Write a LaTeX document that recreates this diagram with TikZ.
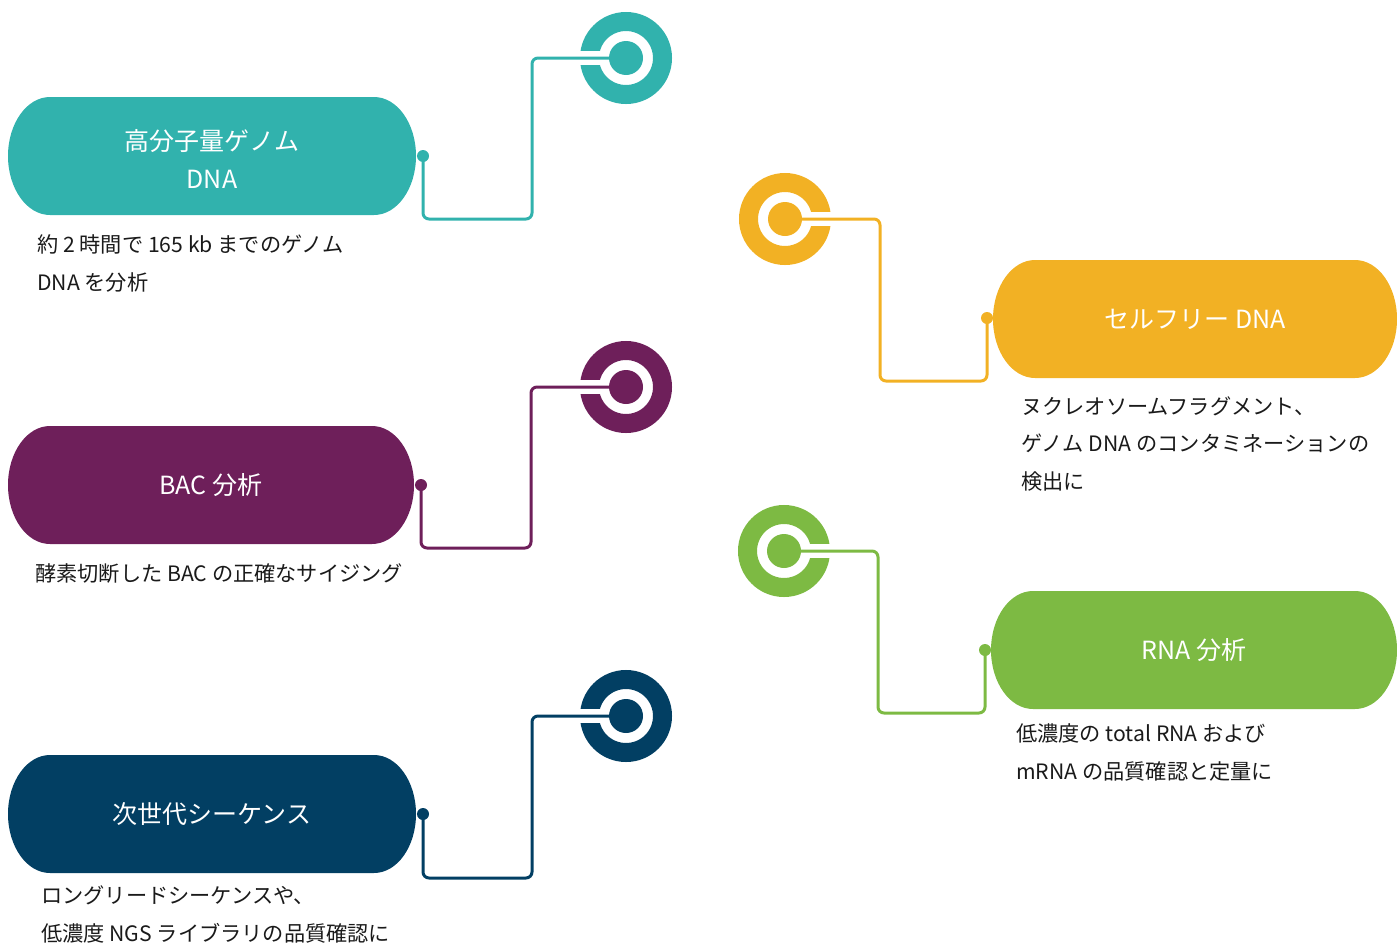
\documentclass[tikz,border=0pt]{standalone}
\usepackage{fontspec}
\setmainfont{Noto Sans CJK JP}
\usetikzlibrary{calc}
\definecolor{cteal}{HTML}{31B2AD}
\definecolor{cpurple}{HTML}{6E1F5A}
\definecolor{cnavy}{HTML}{023F63}
\definecolor{cyellow}{HTML}{F2B124}
\definecolor{cgreen}{HTML}{7DBA43}
\definecolor{ctext}{HTML}{1A1A1A}
\begin{document}
\begin{tikzpicture}[x=1pt,y=-1pt,
  pill/.style={inner sep=0pt, minimum height=118pt, text=white, align=center,
    font=\fontsize{25}{38}\selectfont,
    path picture={\fill[#1] ([xshift=42pt]path picture bounding box.north west)
      -- ([xshift=-42pt]path picture bounding box.north east)
      arc[start angle=90,end angle=-90,x radius=42pt,y radius=59pt]
      -- ([xshift=42pt]path picture bounding box.south west)
      arc[start angle=270,end angle=90,x radius=42pt,y radius=59pt] -- cycle;}},
  ring/.style={circle, inner sep=0pt, draw=#1, line width=19pt, minimum size=73pt,
    path picture={\fill[#1] (path picture bounding box.center) circle[radius=17pt];}},
  dotnode/.style={circle, inner sep=0pt, minimum size=12pt, fill=#1},
  conn/.style={draw=#1, line width=3pt, rounded corners=6pt},
  desc/.style={anchor=west, inner sep=0pt, text=ctext, font=\fontsize{21.2}{24}\selectfont}
]
\useasboundingbox (0,0) rectangle (1397,945);

% ---------- boxes ----------
\node[pill=cteal, minimum width=408pt] (b1) at (212,156) {\strut 高分子量ゲノム\\DNA};
\node[pill=cpurple, minimum width=406pt] (b2) at (211,485) {BAC 分析};
\node[pill=cnavy, minimum width=408pt] (b3) at (212,814) {次世代シーケンス};
\node[pill=cyellow, minimum width=404pt] (b4) at (1195,319) {セルフリー DNA};
\node[pill=cgreen, minimum width=406pt] (b5) at (1194,650) {RNA 分析};

% ---------- rings ----------
\node[ring=cteal] (c1) at (626,58) {};
\node[ring=cpurple] (c2) at (626,387) {};
\node[ring=cnavy] (c3) at (626,716) {};
\node[ring=cyellow] (c4) at (785,219) {};
\node[ring=cgreen] (c5) at (784,551) {};

\foreach \c in {c1,c2,c3}{\fill[white] ($(\c.center)+(-50,-7)$) rectangle ($(\c.center)+(-26,7)$);}
\foreach \c in {c4,c5}{\fill[white] ($(\c.center)+(26,-7)$) rectangle ($(\c.center)+(50,7)$);}

% ---------- dots ----------
\node[dotnode=cteal] (d1) at (423,156) {};
\node[dotnode=cpurple] (d2) at (421,485) {};
\node[dotnode=cnavy] (d3) at (423,814) {};
\node[dotnode=cyellow] (d4) at (987,318) {};
\node[dotnode=cgreen] (d5) at (985,650) {};

% ---------- connectors ----------
\draw[conn=cteal] (d1.center) -- ++(0,63) -| ($(c1.center)+(-94,0)$) -- (c1.center);
\draw[conn=cpurple] (d2.center) -- ++(0,63) -| ($(c2.center)+(-95,0)$) -- (c2.center);
\draw[conn=cnavy] (d3.center) -- ++(0,64) -| ($(c3.center)+(-94,0)$) -- (c3.center);
\draw[conn=cyellow] (c4.center) -- ++(95,0) |- ($(d4.center)+(0,63)$) -- (d4.center);
\draw[conn=cgreen] (c5.center) -- ++(94,0) |- ($(d5.center)+(0,63)$) -- (d5.center);

% ---------- descriptions ----------
\node[desc] (t1a) at (37,244) {約 2 時間で 165 kb までのゲノム};
\node[desc] (t1b) at (37,282) {DNA を分析};
\node[desc] (t2a) at (35,574) {酵素切断した BAC の正確なサイジング};
\node[desc] (t3a) at (41,895) {ロングリードシーケンスや、};
\node[desc] (t3b) at (41,933) {低濃度 NGS ライブラリの品質確認に};
\node[desc] (t4a) at (1021,406) {ヌクレオソームフラグメント、};
\node[desc] (t4b) at (1021,443) {ゲノム DNA のコンタミネーションの};
\node[desc] (t4c) at (1021,481) {検出に};
\node[desc] (t5a) at (1016,733) {低濃度の total RNA および};
\node[desc] (t5b) at (1016,771) {mRNA の品質確認と定量に};
\end{tikzpicture}
\end{document}
